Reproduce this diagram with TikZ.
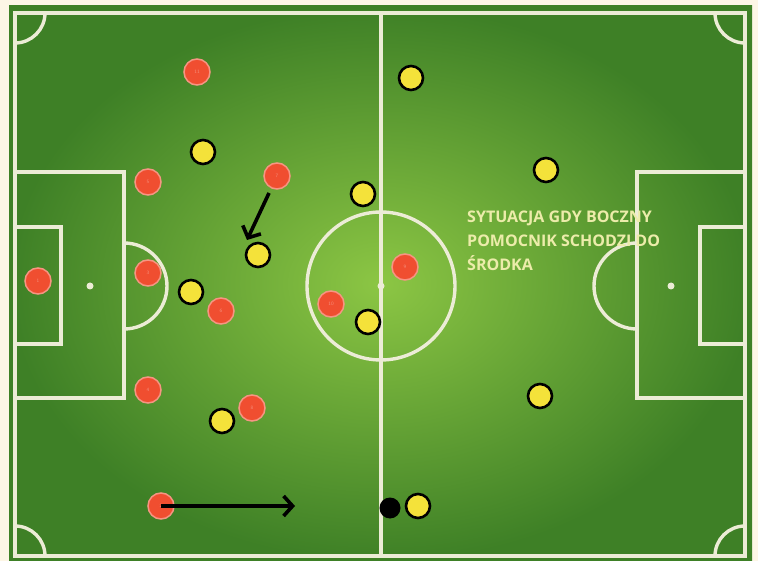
\documentclass[tikz,border=0pt]{standalone}
\usepackage{fontspec}
\newfontfamily\notefont{Open Sans}
\usetikzlibrary{arrows.meta,positioning,calc}
\definecolor{paper}{RGB}{253,246,230}
\definecolor{fieldlight}{RGB}{140,198,68}
\definecolor{fielddark}{RGB}{62,128,38}
\definecolor{pitchline}{RGB}{236,236,214}
\definecolor{homered}{RGB}{240,78,48}
\definecolor{awayyellow}{RGB}{244,226,58}
\definecolor{notetext}{RGB}{236,236,170}

\begin{document}
\begin{tikzpicture}[x=1pt,y=-1pt,
  pline/.style={draw=pitchline,line width=3.4pt},
  home/.style={circle,fill=homered,draw=homered!60!white,line width=1.5pt,minimum size=26pt,inner sep=0pt,
    font=\tiny\sffamily,text=white,text opacity=0.35},
  away/.style={circle,fill=awayyellow,draw=black,line width=2.6pt,minimum size=24pt,inner sep=0pt},
  ball/.style={circle,fill=black,minimum size=21pt,inner sep=0pt},
  run/.style={line width=3.6pt,-{Straight Barb[length=9pt,width=20pt,line width=3.6pt]}},
  note/.style={font=\notefont\bfseries\fontsize{16}{24}\selectfont,text=notetext,align=left,inner sep=0pt}]
  \useasboundingbox (0,0) rectangle (758,561);
  \fill[paper] (0,0) rectangle (758,561);
  \shade[inner color=fieldlight,outer color=fielddark] (9,6) rectangle (752,561);
  % pitch markings
  \draw[pline] (15,13) rectangle (745,556);
  \draw[pline] (381,13) -- (381,556);
  \draw[pline] (381,286) circle[radius=74];
  \fill[pitchline] (381,286) circle[radius=3.5];
  \draw[pline] (15,172) rectangle (124,398);
  \draw[pline] (15,227) rectangle (61,344);
  \fill[pitchline] (90,286) circle[radius=3.5];
  \draw[pline] (124,243) arc[start angle=-90,end angle=90,radius=43];
  \draw[pline] (745,172) rectangle (637,398);
  \draw[pline] (745,227) rectangle (700,344);
  \fill[pitchline] (671,286) circle[radius=3.5];
  \draw[pline] (637,243) arc[start angle=-90,end angle=-270,radius=43];
  \draw[pline] (45,13) arc[start angle=0,end angle=90,radius=30];
  \draw[pline] (715,13) arc[start angle=180,end angle=90,radius=30];
  \draw[pline] (45,556) arc[start angle=0,end angle=-90,radius=30];
  \draw[pline] (715,556) arc[start angle=180,end angle=270,radius=30];
  % red team
  \node[home] (h1) at (38,281) {1};
  \node[home] (h5) at (148,182) {5};
  \node[home] (h3) at (148,273) {3};
  \node[home] (h4) at (148,390) {4};
  \node[home] (h2) at (161,506) {2};
  \node[home] (h6) at (221,311) {6};
  \node[home] (h8) at (252,408) {8};
  \node[home] (h7) at (277,176) {7};
  \node[home] (h11) at (197,72) {11};
  \node[home] (h10) at (331,304) {10};
  \node[home] (h9) at (405,267) {9};
  % yellow team
  \node[away] (a1) at (411,78) {};
  \node[away] (a2) at (203,152) {};
  \node[away] (a3) at (363,194) {};
  \node[away] (a4) at (546,170) {};
  \node[away] (a5) at (258,255) {};
  \node[away] (a6) at (191,292) {};
  \node[away] (a7) at (368,322) {};
  \node[away] (a8) at (540,396) {};
  \node[away] (a9) at (222,421) {};
  \node[away] (a10) at (418,506) {};
  \node[ball] (b) at (390,508) {};
  % movements
  \coordinate (cut) at (247,240);
  \coordinate (overlap) at (295,506);
  \draw[run,shorten <=5pt] (h7) -- (cut);
  \draw[run] (h2.center) -- (overlap);
  \node[note,anchor=north west] (title) at (467,211) {SYTUACJA GDY BOCZNY\\POMOCNIK SCHODZI DO\\ŚRODKA};
\end{tikzpicture}
\end{document}
